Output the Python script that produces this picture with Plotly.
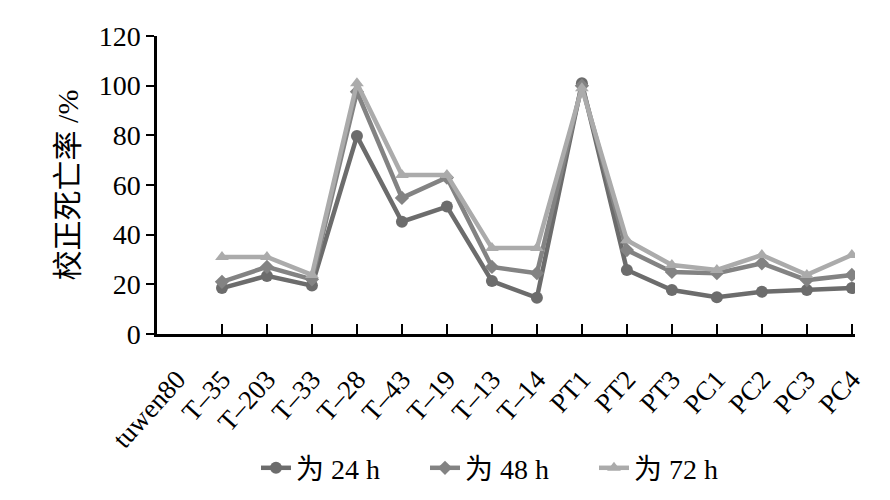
import plotly.graph_objects as go

categories = ["tuwen80", "T\u201335", "T\u2013203", "T\u201333", "T\u201328", "T\u201343", "T\u201319",
              "T\u201313", "T\u201314", "PT1", "PT2", "PT3", "PC1", "PC2", "PC3", "PC4"]
series_categories = categories[1:]

h24 = [18.5, 23.4, 19.5, 79.7, 45.2, 51.3, 21.3, 14.6, 101, 25.8, 17.7, 14.8, 17.0, 17.7, 18.5]
h48 = [21.0, 27.0, 22.0, 97.6, 54.8, 63.0, 27.0, 24.5, 100, 33.8, 25.0, 24.5, 28.5, 21.7, 23.8]
h72 = [31.0, 31.0, 23.8, 101, 64.0, 64.0, 34.6, 34.6, 99, 37.8, 27.8, 25.8, 31.8, 23.8, 31.8]

series_names = ["为 24 h", "为 48 h", "为 72 h"]
y_ticks = [0, 20, 40, 60, 80, 100, 120]

x_idx = [categories.index(c) for c in series_categories]
x_range = [-0.444, 15.07]

styles = [
    dict(color="#6c6c6c", symbol="circle", size=12),
    dict(color="#838383", symbol="diamond", size=11),
    dict(color="#ababab", symbol="triangle-up", size=12),
]

fig = go.Figure()
for name, vals, st in zip(series_names, [h24, h48, h72], styles):
    fig.add_trace(go.Scatter(
        x=x_idx, y=vals, name=name, mode="lines+markers",
        line=dict(color=st["color"], width=4.5),
        marker=dict(color=st["color"], symbol=st["symbol"], size=st["size"]),
    ))

serif = "Liberation Serif, Noto Sans CJK SC"
# the page body adds an 8px offset, so margins are shifted to compensate
fig.update_layout(
    width=890, height=500,
    margin=dict(l=149, r=43, t=28, b=174),
    paper_bgcolor="white", plot_bgcolor="white",
    font=dict(family=serif, color="black"),
    showlegend=True,
    legend=dict(orientation="h", x=0.505, xanchor="center", y=-0.45, yanchor="middle",
                font=dict(size=28, family=serif), tracegroupgap=0,
                entrywidth=124, entrywidthmode="pixels"),
    xaxis=dict(
        range=x_range, automargin=False,
        tickmode="array", tickvals=list(range(len(categories))), ticktext=categories,
        ticks="", tickangle=-48, tickfont=dict(size=27, family=serif),
        ticklabelstandoff=16,
        showline=True, linecolor="black", linewidth=2.5, showgrid=False, zeroline=False,
    ),
    xaxis2=dict(
        range=x_range, overlaying="x", side="bottom", anchor="y", automargin=False,
        tickmode="array", tickvals=x_idx, showticklabels=False,
        ticks="inside", ticklen=10, tickwidth=2, tickcolor="black",
        showline=False, showgrid=False, zeroline=False,
    ),
    yaxis=dict(
        range=[0, 120], automargin=False, tickmode="array", tickvals=y_ticks,
        ticks="outside", ticklen=8, tickwidth=2, tickcolor="black",
        tickfont=dict(size=28, family=serif),
        showline=True, linecolor="black", linewidth=2.5, showgrid=False, zeroline=False,
        title=dict(text="校正死亡率 /%", font=dict(size=30, family=serif), standoff=12),
    ),
)
# invisible trace to activate the tick-only overlay axis
fig.add_trace(go.Scatter(x=[x_idx[0]], y=[None], xaxis="x2", showlegend=False,
                         hoverinfo="skip", mode="markers"))

fig.write_html("out.html")
